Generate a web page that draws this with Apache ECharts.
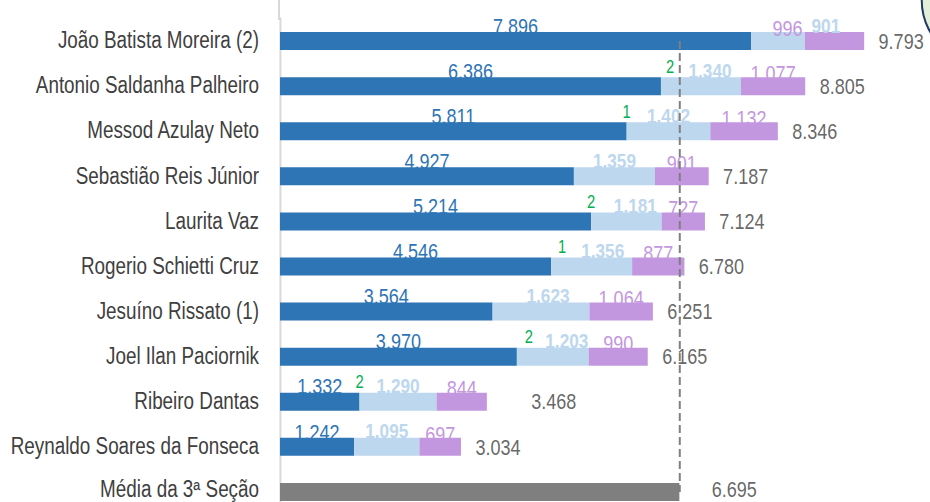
<!DOCTYPE html>
<html>
<head>
<meta charset="utf-8">
<script src="https://cdn.jsdelivr.net/npm/echarts@6/dist/echarts.min.js"></script>
<style>
  html, body { margin: 0; padding: 0; background: #fff; overflow: hidden; }
  /* o original usa Arial Narrow: desenha em Liberation Sans e comprime na horizontal */
  #chart { width: 1135px; height: 502px; transform: scaleX(0.82); transform-origin: 0 0; }
</style>
</head>
<body>
<div id="chart"></div>
<script>
// ministros, de cima para baixo
const names = [
  'João Batista Moreira (2)',
  'Antonio Saldanha Palheiro',
  'Messod Azulay Neto',
  'Sebastião Reis Júnior',
  'Laurita Vaz',
  'Rogerio Schietti Cruz',
  'Jesuíno Rissato (1)',
  'Joel Ilan Paciornik',
  'Ribeiro Dantas',
  'Reynaldo Soares da Fonseca',
  'Média da 3ª Seção'
]
const darkVals = [7896, 6386, 5811, 4927, 5214, 4546, 3564, 3970, 1332, 1242, null]
const greenVals = [null, 2, 1, null, 2, 1, null, 2, 2, null, null]
const lightVals = [901, 1340, 1402, 1359, 1181, 1356, 1623, 1203, 1290, 1095, null]
const purpleVals = [996, 1077, 1132, 901, 727, 877, 1064, 990, 844, 697, null]
const avgVals = [null, null, null, null, null, null, null, null, null, null, 6695]
const totals = [9793, 8805, 8346, 7187, 7124, 6780, 6251, 6165, 3468, 3034, 6695]
const sectionAvg = 6695

// ajustes manuais de posição dos rótulos (px na tela)
const lightShift = { 0: 48, 1: 9, 4: 9, 5: 11, 6: 7, 7: 14 }
const purpleShift = { 0: -47 }
const greenShift = { 1: 9, 5: 11, 7: 12 }
const totalShift = { 8: [30, 0], 10: [18, -3] }

const SCALE = 0.82
const sx = v => v / SCALE
const FONT = '"Liberation Sans", Arial, sans-serif'

function fmt(n) {
  return String(n).replace(/\B(?=(\d{3})+(?!\d))/g, '.')
}

function withShift(vals, shift) {
  return vals.map((v, i) => {
    if (v == null) return null
    if (shift[i]) return { value: v, label: { offset: [sx(shift[i]), 0] } }
    return v
  })
}

const chart = echarts.init(document.getElementById('chart'), null, { renderer: 'svg' })
chart.setOption({
  animation: false,
  backgroundColor: '#fff',
  grid: {
    left: sx(280),
    top: 18.5,
    width: sx(596.5),
    height: 496,
    outerBoundsMode: 'none',
    containLabel: false
  },
  xAxis: {
    type: 'value',
    min: 0,
    max: 10000,
    show: false
  },
  yAxis: {
    type: 'category',
    inverse: true,
    data: names,
    axisLine: { show: true, lineStyle: { color: '#d9d9d9', width: 2.4 } },
    axisTick: { show: false },
    axisLabel: {
      margin: sx(21),
      color: '#404040',
      fontSize: 23,
      fontFamily: FONT,
      padding: [0, 0, 2, 0],
      // a última linha fica rente à borda de baixo: sobe um pouco
      formatter: (v, i) => i === names.length - 1 ? '{last|' + v + '}' : v,
      rich: {
        last: { color: '#404040', fontSize: 23, fontFamily: FONT, padding: [0, 0, 5, 0] }
      }
    },
    splitLine: { show: false }
  },
  graphic: [
    {
      type: 'line',
      shape: { x1: sx(279), y1: 0, x2: sx(279), y2: 20 },
      style: { stroke: '#d9d9d9', lineWidth: 2.4 },
      silent: true
    },
    {
      type: 'circle',
      shape: { cx: sx(966), cy: 0, r: 54 },
      style: { fill: '#e2f0d9', stroke: '#1f3864', lineWidth: 2.4 },
      silent: true
    }
  ],
  series: [
    {
      name: 'dark',
      type: 'bar',
      stack: 'total',
      barWidth: 18,
      itemStyle: { color: '#2e75b6' },
      label: {
        show: true,
        position: 'top',
        distance: -5,
        color: '#2e75b6',
        fontSize: 22,
        fontFamily: FONT,
        formatter: p => fmt(p.value)
      },
      data: darkVals
    },
    {
      name: 'green',
      type: 'bar',
      stack: 'total',
      itemStyle: { color: '#00b050' },
      label: {
        show: true,
        position: 'top',
        distance: 2,
        color: '#00b050',
        fontSize: 18,
        fontFamily: FONT,
        formatter: p => fmt(p.value)
      },
      data: withShift(greenVals, greenShift)
    },
    {
      name: 'light',
      type: 'bar',
      stack: 'total',
      itemStyle: { color: '#bdd7ee' },
      label: {
        show: true,
        position: 'top',
        distance: -4,
        color: '#bdd7ee',
        fontSize: 21,
        fontWeight: 'bold',
        fontFamily: FONT,
        formatter: p => fmt(p.value)
      },
      data: withShift(lightVals, lightShift)
    },
    {
      name: 'purple',
      type: 'bar',
      stack: 'total',
      itemStyle: { color: '#c297df' },
      label: {
        show: true,
        position: 'top',
        distance: -7,
        color: '#c497e0',
        fontSize: 22,
        fontFamily: FONT,
        formatter: p => fmt(p.value)
      },
      data: withShift(purpleVals, purpleShift)
    },
    {
      name: 'media',
      type: 'bar',
      stack: 'total',
      itemStyle: { color: '#7f7f7f' },
      data: avgVals,
      markLine: {
        silent: true,
        symbol: 'none',
        label: { show: false },
        lineStyle: { color: '#7f7f7f', type: [8, 4], width: 2.4 },
        data: [[
          { coord: [sectionAvg, 0] },
          { coord: [sectionAvg, names.length - 1] }
        ]]
      }
    },
    {
      name: 'totais',
      type: 'scatter',
      symbolSize: 1,
      silent: true,
      itemStyle: { color: 'rgba(0,0,0,0)' },
      label: {
        show: true,
        position: 'right',
        distance: sx(14),
        color: '#404040',
        fontSize: 22,
        fontFamily: FONT,
        formatter: p => fmt(p.value[0])
      },
      data: totals.map((t, i) => {
        const item = { value: [t, i] }
        if (totalShift[i]) item.label = { offset: [sx(totalShift[i][0]), totalShift[i][1]] }
        return item
      })
    }
  ]
})
</script>
</body>
</html>
